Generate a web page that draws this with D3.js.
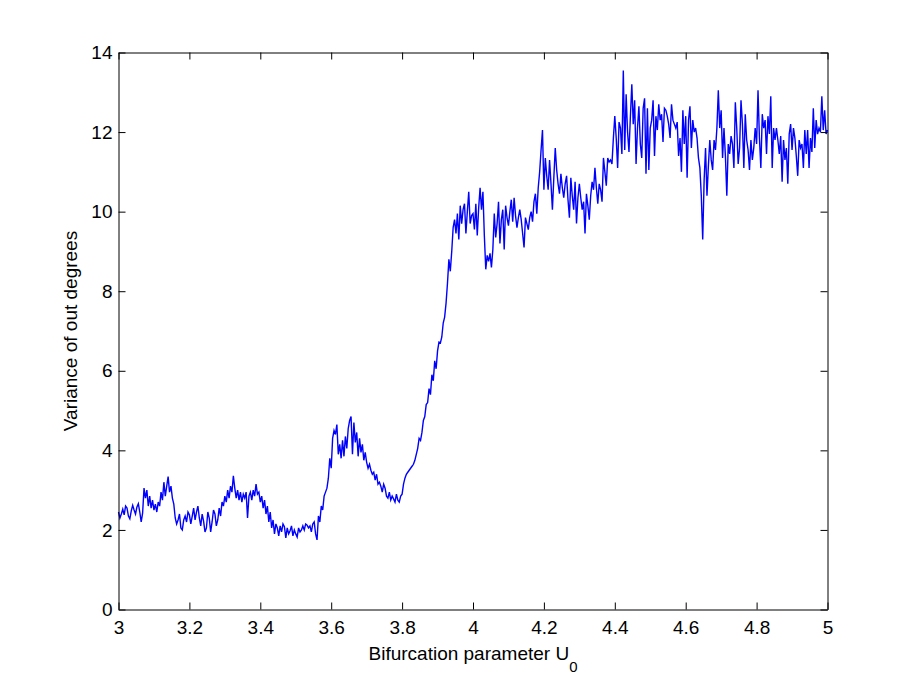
<!DOCTYPE html>
<html>
<head>
<meta charset="utf-8">
<script src="https://cdn.jsdelivr.net/npm/d3@7"></script>
<style>
  html, body { margin: 0; padding: 0; background: #fff; }
  svg { display: block; }
  text { font-family: "Liberation Sans", Arial, Helvetica, sans-serif; fill: #000; }
</style>
</head>
<body>
<svg id="chart" width="913" height="684"></svg>
<script>
// ---- data ----
const u0Start = 3;
const u0Step = 0.004;
const varianceOutDegrees = [
  2.45, 2.30, 2.40, 2.52, 2.38, 2.60, 2.55, 2.35, 2.28, 2.48,
  2.62, 2.50, 2.40, 2.58, 2.66, 2.45, 2.20, 2.42, 3.05, 2.80,
  3.00, 2.60, 2.85, 2.55, 2.75, 2.50, 2.65, 2.45, 2.70, 2.60,
  2.95, 2.75, 3.20, 2.85, 3.10, 3.34, 2.95, 3.10, 2.80, 2.65,
  2.30, 2.15, 2.25, 2.40, 2.05, 2.00, 2.25, 2.35, 2.20, 2.45,
  2.38, 2.15, 2.35, 2.55, 2.25, 2.45, 2.60, 2.30, 2.10, 2.40,
  2.22, 1.95, 2.05, 2.45, 2.30, 1.95, 2.20, 2.50, 2.40, 2.10,
  2.25, 2.55, 2.35, 2.70, 2.60, 2.85, 2.70, 3.00, 2.80, 3.10,
  2.95, 3.36, 3.05, 2.80, 3.00, 2.75, 2.95, 2.70, 2.90, 2.80,
  2.95, 2.30, 2.85, 2.95, 2.75, 3.00, 2.85, 3.15, 2.90, 2.95,
  2.70, 2.85, 2.55, 2.75, 2.40, 2.60, 2.20, 2.45, 2.05, 2.25,
  1.90, 2.15, 2.05, 1.85, 2.10, 1.95, 2.15, 2.08, 1.80, 2.05,
  1.90, 1.98, 2.10, 1.85, 2.00, 1.90, 1.82, 2.05, 1.95, 2.00,
  2.10, 2.00, 2.15, 2.12, 2.05, 2.10, 1.95, 2.15, 2.20, 1.90,
  1.75, 2.35, 2.20, 2.60, 2.50, 2.85, 2.95, 3.05, 3.30, 3.80,
  3.55, 4.30, 4.50, 4.40, 4.65, 3.90, 4.15, 3.80, 4.25, 3.85,
  4.35, 4.05, 4.55, 4.75, 4.85, 3.90, 4.70, 4.20, 4.45, 3.85,
  4.30, 3.95, 4.15, 3.75, 3.95, 3.70, 3.55, 3.65, 3.50, 3.40,
  3.45, 3.25, 3.40, 3.15, 3.20, 3.10, 2.95, 3.15, 3.05, 2.85,
  2.80, 2.95, 2.75, 2.85, 2.78, 2.70, 2.90, 2.75, 2.70, 2.85,
  2.90, 3.15, 3.30, 3.40, 3.45, 3.50, 3.55, 3.60, 3.65, 3.75,
  3.90, 4.05, 4.30, 4.25, 4.45, 4.75, 4.85, 5.15, 5.20, 5.55,
  5.40, 5.90, 5.75, 6.25, 6.05, 6.50, 6.72, 6.70, 6.85, 7.20,
  7.35, 7.70, 8.20, 8.80, 8.50, 9.00, 9.60, 9.80, 9.45, 9.95,
  9.30, 10.15, 9.70, 10.05, 10.20, 9.45, 10.00, 10.50, 9.70, 9.90,
  9.95, 9.55, 10.20, 9.40, 10.10, 10.60, 10.05, 10.50, 9.40, 8.55,
  8.90, 8.75, 8.95, 8.60, 9.05, 9.95, 9.35, 9.70, 10.25, 9.20,
  9.80, 10.05, 9.05, 10.15, 9.85, 9.65, 10.00, 10.30, 9.75, 10.35,
  9.90, 9.60, 9.85, 10.05, 9.80, 9.45, 9.10, 9.85, 9.70, 9.55,
  9.85, 10.00, 9.75, 10.25, 10.45, 9.95, 10.60, 11.00, 11.55, 12.05,
  10.55, 11.35, 10.90, 10.55, 11.30, 10.70, 10.05, 10.85, 11.60, 11.05,
  10.70, 10.45, 10.95, 10.60, 10.35, 10.70, 10.90, 10.30, 9.85, 10.85,
  10.40, 10.05, 10.75, 9.70, 10.35, 10.70, 10.35, 10.05, 10.25, 9.45,
  10.45, 10.15, 9.80, 10.40, 10.75, 10.55, 11.10, 10.60, 10.20, 10.70,
  10.55, 10.25, 11.35, 11.00, 10.65, 11.35, 11.25, 11.30, 11.20, 11.85,
  12.40, 11.85, 11.10, 12.25, 12.10, 11.45, 13.55, 11.55, 12.95, 12.00,
  11.50, 12.40, 13.20, 12.20, 12.80, 11.20, 12.10, 12.65, 11.70, 11.35,
  12.60, 12.85, 10.95, 12.60, 11.05, 12.10, 12.30, 12.80, 11.40, 12.40,
  12.05, 12.70, 12.30, 12.45, 11.75, 12.60, 12.55, 12.40, 12.20, 11.85,
  12.70, 12.30, 12.20, 12.10, 12.25, 11.40, 11.85, 11.00, 12.55, 11.70,
  12.40, 10.85, 12.30, 12.65, 11.60, 12.30, 12.00, 12.10, 11.85, 11.35,
  11.10, 10.40, 9.30, 10.80, 11.60, 10.40, 11.15, 11.80, 11.30, 11.05,
  11.80, 11.55, 12.10, 13.05, 12.10, 12.55, 11.35, 12.10, 11.40, 10.40,
  11.70, 11.45, 11.90, 11.70, 11.10, 12.75, 12.10, 11.20, 11.60, 12.80,
  12.20, 11.10, 12.45, 11.80, 11.55, 11.05, 11.80, 11.30, 11.60, 12.10,
  11.70, 13.05, 11.85, 11.10, 12.45, 12.10, 12.30, 11.45, 12.40, 11.95,
  12.90, 11.10, 12.10, 11.80, 12.10, 11.80, 11.45, 11.90, 10.75, 11.80,
  11.30, 11.60, 10.70, 11.95, 12.20, 11.55, 12.10, 11.85, 11.40, 10.90,
  11.80, 11.60, 11.70, 11.10, 12.05, 11.45, 12.05, 11.10, 11.85, 11.50,
  12.60, 11.60, 12.30, 11.95, 12.10, 12.00, 12.90, 12.05, 12.55, 11.95,
  12.05
];
const u0Values = varianceOutDegrees.map((_, i) => u0Start + i * u0Step);
const xTickValues = [3, 3.2, 3.4, 3.6, 3.8, 4, 4.2, 4.4, 4.6, 4.8, 5];
const xTickLabels = ["3", "3.2", "3.4", "3.6", "3.8", "4", "4.2", "4.4", "4.6", "4.8", "5"];
const yTickValues = [0, 2, 4, 6, 8, 10, 12, 14];
const yTickLabels = ["0", "2", "4", "6", "8", "10", "12", "14"];
const xLabel = "Bifurcation parameter U";
const xLabelSub = "0";
const yLabel = "Variance of out degrees";

// ---- layout ----
const L = 118.5, R = 827.5, T = 52.5, B = 609.5;
const fontSize = 19;
const tickLen = 7;

const svg = d3.select("#chart");
const x = d3.scaleLinear().domain([3, 5]).range([L, R]);
const y = d3.scaleLinear().domain([0, 14]).range([B, T]);

// data line
const line = d3.line().x((d, i) => x(u0Values[i])).y(d => y(d));
svg.append("path")
  .datum(varianceOutDegrees)
  .attr("d", line)
  .attr("fill", "none")
  .attr("stroke", "#0000ff")
  .attr("stroke-width", 1.4)
  .attr("stroke-linejoin", "miter");

function styleAxis(g) {
  g.selectAll("path.domain").attr("stroke", "#000").attr("stroke-width", 1).attr("fill", "none");
  g.selectAll(".tick line").attr("stroke", "#000").attr("stroke-width", 1);
  g.selectAll(".tick text")
    .attr("font-size", fontSize)
    .attr("font-family", "'Liberation Sans', Arial, Helvetica, sans-serif")
    .attr("fill", "#000");
}

// bottom axis
svg.append("g")
  .attr("transform", `translate(0,${B})`)
  .call(d3.axisBottom(x).tickValues(xTickValues)
    .tickFormat((d, i) => xTickLabels[i]).tickSizeInner(-tickLen).tickSizeOuter(0).tickPadding(11))
  .call(styleAxis);

// top axis
svg.append("g")
  .attr("transform", `translate(0,${T})`)
  .call(d3.axisTop(x).tickValues(xTickValues).tickFormat("")
    .tickSizeInner(-tickLen).tickSizeOuter(0))
  .call(styleAxis);

// left axis
svg.append("g")
  .attr("transform", `translate(${L},0)`)
  .call(d3.axisLeft(y).tickValues(yTickValues)
    .tickFormat((d, i) => yTickLabels[i]).tickSizeInner(-tickLen).tickSizeOuter(0).tickPadding(6))
  .call(styleAxis);

// right axis
svg.append("g")
  .attr("transform", `translate(${R},0)`)
  .call(d3.axisRight(y).tickValues(yTickValues).tickFormat("")
    .tickSizeInner(-tickLen).tickSizeOuter(0))
  .call(styleAxis);

// x label
const xl = svg.append("text")
  .attr("x", (L + R) / 2)
  .attr("y", 660)
  .attr("text-anchor", "middle")
  .attr("font-size", fontSize);
xl.append("tspan").text(xLabel);
xl.append("tspan").attr("dy", 12).attr("font-size", 15).text(xLabelSub);

// y label
svg.append("text")
  .attr("transform", `translate(77,${(T + B) / 2}) rotate(-90)`)
  .attr("text-anchor", "middle")
  .attr("font-size", fontSize)
  .text(yLabel);
</script>
</body>
</html>
